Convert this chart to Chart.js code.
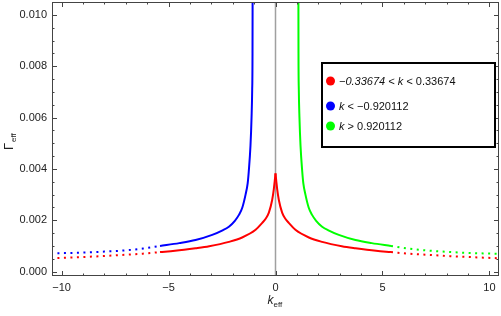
<!DOCTYPE html>
<html>
<meta charset="UTF-8">
<script src="https://cdn.jsdelivr.net/npm/chart.js"></script>
<head>
    <title>Gamma eff</title>
    <style>
        body { margin: 0; background: #fff; }
        #wrap { width: 501px; height: 316px; }
    </style>
</head>
<body>
<div id="wrap"><canvas id="chart"></canvas></div>
<script>
    // values
    const kRedR = [0, 0.04, 0.08, 0.156, 0.31, 0.47, 0.62, 0.93, 1.56, 2.18, 3.1, 3.74, 4.7, 5.4];
    const gRedR = [0.00383, 0.0035, 0.0032, 0.00279, 0.0023, 0.00205, 0.0019, 0.00163, 0.00133, 0.00116, 0.00099, 0.00091, 0.00081, 0.00076];
    const kRedRTail = [5.4, 6.2, 7.0, 8.0, 9.0, 10.5];
    const gRedRTail = [0.00076, 0.0007, 0.00066, 0.00061, 0.00057, 0.00052];

    const kRedL = [-5.4, -4.7, -3.74, -3.1, -2.18, -1.56, -0.93, -0.62, -0.47, -0.31, -0.156, -0.08, -0.04, 0];
    const gRedL = [0.00076, 0.00081, 0.00091, 0.00099, 0.00116, 0.00133, 0.00163, 0.0019, 0.00205, 0.0023, 0.00279, 0.0032, 0.0035, 0.00383];
    const kRedLTail = [-10.5, -9.0, -8.0, -7.0, -6.2, -5.4];
    const gRedLTail = [0.00052, 0.00057, 0.00061, 0.00066, 0.0007, 0.00076];

    const kGreen = [1.07, 1.075, 1.09, 1.12, 1.17, 1.25, 1.3, 1.4, 1.55, 1.71, 1.9, 2.18, 2.5, 2.96, 3.74, 4.5, 5.4];
    const gGreen = [0.011, 0.0085, 0.00708, 0.006, 0.0049, 0.0039, 0.00345, 0.003, 0.0025, 0.00221, 0.00198, 0.00175, 0.0016, 0.00143, 0.00123, 0.00111, 0.001];
    const kGreenTail = [5.4, 6.2, 7.0, 8.0, 9.0, 10.5];
    const gGreenTail = [0.001, 0.0009, 0.00083, 0.00077, 0.00073, 0.00069];

    const kBlue = [-5.4, -4.5, -3.74, -2.96, -2.5, -2.18, -1.9, -1.71, -1.55, -1.4, -1.3, -1.25, -1.17, -1.12, -1.09, -1.075, -1.07];
    const gBlue = [0.001, 0.00111, 0.00123, 0.00143, 0.0016, 0.00175, 0.00198, 0.00221, 0.0025, 0.003, 0.00345, 0.0039, 0.0049, 0.006, 0.00708, 0.0085, 0.011];
    const kBlueTail = [-10.5, -9.0, -8.0, -7.0, -6.2, -5.4];
    const gBlueTail = [0.00071, 0.00074, 0.00078, 0.00083, 0.0009, 0.001];

    const xTicks = [-10, -5, 0, 5, 10];
    const yTicks = [0, 0.002, 0.004, 0.006, 0.008, 0.010];

    const legendItems = [
        { color: '#ff0000', parts: [['italic', '\u22120.33674 < k <'], ['normal', ' 0.33674']] },
        { color: '#0000ff', parts: [['italic', 'k'], ['normal', ' < \u22120.920112']] },
        { color: '#00ff00', parts: [['italic', 'k'], ['normal', ' > 0.920112']] }
    ];

    function pts(xs, ys) {
        return xs.map((x, i) => ({ x: x, y: ys[i] }));
    }

    function line(xs, ys, color, dotted) {
        return {
            data: pts(xs, ys),
            showLine: true,
            borderColor: color,
            borderWidth: 2,
            borderDash: dotted ? [2, 4.5] : [],
            pointRadius: 0,
            cubicInterpolationMode: 'monotone',
            fill: false
        };
    }

    const FONT = '"Liberation Sans", Arial, sans-serif';

    const framePlugin = {
        id: 'frame',
        beforeDatasetsDraw(chart) {
            const c = chart.ctx, a = chart.chartArea, xs = chart.scales.x;
            const x0 = xs.getPixelForValue(0);
            c.save();
            c.strokeStyle = '#a0a0a0';
            c.lineWidth = 1.5;
            c.beginPath();
            c.moveTo(x0, a.top);
            c.lineTo(x0, a.bottom);
            c.stroke();
            c.restore();
        },
        afterDraw(chart) {
            const c = chart.ctx, a = chart.chartArea;
            const xs = chart.scales.x, ys = chart.scales.y;
            c.save();
            c.strokeStyle = '#444';
            c.lineWidth = 1;
            c.strokeRect(a.left + 0.5, a.top + 0.5, a.right - a.left - 1, a.bottom - a.top - 1);
            c.beginPath();
            for (let v = -10; v <= 10; v++) {
                const px = Math.round(xs.getPixelForValue(v)) + 0.5;
                const len = v % 5 === 0 ? 5 : 2.5;
                c.moveTo(px, a.bottom); c.lineTo(px, a.bottom - len);
                c.moveTo(px, a.top); c.lineTo(px, a.top + len);
            }
            for (let i = 0; i <= 21; i++) {
                const v = i * 0.0005;
                const py = Math.round(ys.getPixelForValue(v)) + 0.5;
                if (py < a.top + 1) continue;
                const len = i % 4 === 0 ? 5 : 2.5;
                c.moveTo(a.left, py); c.lineTo(a.left + len, py);
                c.moveTo(a.right, py); c.lineTo(a.right - len, py);
            }
            c.stroke();

            // axis titles
            c.fillStyle = '#222';
            c.textBaseline = 'alphabetic';
            c.font = 'italic 12px ' + FONT;
            const kx = xs.getPixelForValue(0) - 8;
            c.fillText('k', kx, 304);
            c.font = '8px ' + FONT;
            c.fillText('eff', kx + 6, 307);

            c.translate(13, 150);
            c.rotate(-Math.PI / 2);
            c.font = '13px ' + FONT;
            c.fillText('\u0393', 0, 0);
            c.font = '8px ' + FONT;
            c.fillText('eff', 8, 3);
            c.setTransform(1, 0, 0, 1, 0, 0);

            // legend box
            c.fillStyle = '#fff';
            c.fillRect(322, 63, 173, 84);
            c.strokeStyle = '#000';
            c.lineWidth = 2;
            c.strokeRect(322, 63, 173, 84);
            const rowsY = [81, 106, 126];
            legendItems.forEach((it, i) => {
                c.fillStyle = it.color;
                c.beginPath();
                c.arc(330.5, rowsY[i], 4.5, 0, Math.PI * 2);
                c.fill();
                c.fillStyle = '#111';
                c.textBaseline = 'middle';
                let tx = 339;
                it.parts.forEach(p => {
                    c.font = (p[0] === 'italic' ? 'italic ' : '') + '11px ' + FONT;
                    c.fillText(p[1], tx, rowsY[i] + 0.5);
                    tx += c.measureText(p[1]).width;
                });
            });
            c.restore();
        }
    };

    const ctx = document.getElementById('chart').getContext('2d');
    new Chart(ctx, {
        type: 'scatter',
        data: {
            datasets: [
                line(kRedR, gRedR, '#ff0000', false),
                line(kRedRTail, gRedRTail, '#ff0000', true),
                line(kRedL, gRedL, '#ff0000', false),
                line(kRedLTail, gRedLTail, '#ff0000', true),
                line(kBlue, gBlue, '#0000ff', false),
                line(kBlueTail, gBlueTail, '#0000ff', true),
                line(kGreen, gGreen, '#00ff00', false),
                line(kGreenTail, gGreenTail, '#00ff00', true)
            ]
        },
        options: {
            responsive: true,
            maintainAspectRatio: false,
            animation: false,
            layout: { padding: { top: 2, right: 2, left: 0, bottom: 0 } },
            plugins: { legend: { display: false }, tooltip: { enabled: false } },
            scales: {
                x: {
                    type: 'linear',
                    min: -10.45,
                    max: 10.45,
                    afterBuildTicks: s => { s.ticks = xTicks.map(v => ({ value: v })); },
                    afterFit: s => { s.height = 40; s.paddingLeft = 0; s.paddingRight = 0; },
                    grid: { display: false, drawTicks: false },
                    border: { display: false },
                    ticks: {
                        padding: 5,
                        color: '#222',
                        font: { family: FONT, size: 11 },
                        maxRotation: 0,
                        callback: v => (v < 0 ? '\u2212' + Math.abs(v) : String(v))
                    }
                },
                y: {
                    type: 'linear',
                    min: -0.00017,
                    max: 0.0105,
                    afterBuildTicks: s => { s.ticks = yTicks.map(v => ({ value: v })); },
                    afterFit: s => { s.width = 52; s.paddingTop = 0; s.paddingBottom = 0; },
                    grid: { display: false, drawTicks: false },
                    border: { display: false },
                    ticks: {
                        padding: 5,
                        color: '#222',
                        font: { family: FONT, size: 11 },
                        callback: v => v.toFixed(3)
                    }
                }
            }
        },
        plugins: [framePlugin]
    });
</script>
</body>
</html>
